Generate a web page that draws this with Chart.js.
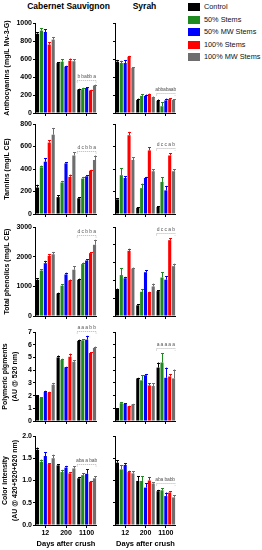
<!DOCTYPE html>
<html>
<head>
<meta charset="utf-8">
<script src="https://cdn.jsdelivr.net/npm/chart.js@4.4.1/dist/chart.umd.min.js"></script>
<style>
  html, body { margin:0; padding:0; background:#fff; }
  body { width:262px; height:550px; position:relative; overflow:hidden; font-family:'Liberation Sans', Arial, sans-serif; }
  canvas { position:absolute; }
  .ttl { position:absolute; font-weight:bold; font-size:8.5px; color:#000; white-space:nowrap; transform:translate(-50%,-50%); }
  .lg { position:absolute; left:188px; font-size:7.3px; color:#111; white-space:nowrap; height:10px; line-height:10px; }
  .lg i { position:absolute; left:0; top:1px; width:12px; height:8px; }
  .lg span { position:absolute; left:16px; top:0; }
</style>
</head>
<body>
<div class="ttl" style="left:68.5px;top:6px">Cabernet Sauvignon</div>
<div class="ttl" style="left:144.5px;top:6px">Syrah</div>
<div id="legend"></div>
<script>
// ---------- DATA ----------
const categories = ['12', '200', '1100'];
const seriesNames = ['Control', '50% Stems', '50% MW Stems', '100% Stems', '100% MW Stems'];
const seriesColors = ['#000000', '#1f8a1f', '#0000ff', '#ff0000', '#6e6e6e'];

// each row: one series across categories [12, 200, 1100]
const cabAnth    = [[880,555,260],[915,570,265],[900,515,278],[760,580,250],[815,575,305]];
const cabAnthErr = [[15,10,10],[30,25,15],[30,10,10],[25,25,8],[30,20,10]];
const syrAnth    = [[570,145,135],[555,190,75],[555,190,140],[625,205,155],[500,175,145]];
const syrAnthErr = [[20,15,15],[25,20,45],[30,15,20],[10,10,10],[10,8,10]];

const cabTan    = [[235,150,140],[415,280,315],[465,450,335],[635,330,385],[705,520,480]];
const cabTanErr = [[25,15,10],[15,15,15],[30,8,10],[20,20,8],[60,30,40]];
const syrTan    = [[130,55,62],[345,230,285],[320,320,210],[700,565,520],[480,380,380]];
const syrTanErr = [[10,5,5],[60,40,40],[15,10,40],[30,30,20],[25,20,20]];

const cabPhen    = [[1220,756,1220],[1530,1020,1750],[1780,1400,1870],[2030,1200,2120],[2080,1560,2400]];
const cabPhenErr = [[50,30,40],[40,50,50],[80,60,40],[60,30,30],[80,120,170]];
const syrPhen    = [[740,300,700],[1150,680,1080],[1060,1230,1020],[1830,650,2130],[1330,830,1400]];
const syrPhenErr = [[30,30,30],[200,80,150],[40,50,100],[60,30,60],[30,80,70]];

const cabPoly    = [[1.98,5.0,6.3],[1.82,4.8,6.35],[2.28,4.22,6.4],[2.22,5.05,5.35],[2.85,4.65,5.75]];
const cabPolyErr = [[0.05,0.15,0.1],[0.05,0.1,0.1],[0.1,0.05,0.3],[0.08,0.25,0.05],[0.15,0.15,0.1]];
const syrPoly    = [[0.95,3.35,4.2],[1.4,3.2,4.6],[1.35,3.6,3.4],[1.15,2.8,3.5],[1.3,2.75,3.35]];
const syrPolyErr = [[0.05,0.05,0.4],[0.1,0.4,0.75],[0.05,0.1,0.8],[0.05,0.15,0.2],[0.05,0.2,0.7]];

const cabColor    = [[1.69,1.34,1.05],[1.42,1.19,1.12],[1.55,1.29,1.15],[1.37,1.16,0.97],[1.5,1.27,1.05]];
const cabColorErr = [[0.05,0.03,0.03],[0.05,0.05,0.04],[0.08,0.04,0.1],[0.02,0.03,0.02],[0.08,0.05,0.05]];
const syrColor    = [[1.4,0.99,0.76],[1.25,0.99,0.78],[1.35,0.84,0.65],[1.19,1.0,0.73],[1.16,0.93,0.62]];
const syrColorErr = [[0.05,0.1,0.03],[0.1,0.1,0.05],[0.04,0.1,0.08],[0.03,0.08,0.03],[0.05,0.03,0.05]];

// significance letters over the 1100-day group
const cabAnthLetters  = ['b','b','ab','b','a'];
const syrAnthLetters  = ['ab','b','ab','a','ab'];
const cabTanLetters   = ['d','c','b','b','a'];
const syrTanLetters   = ['d','c','c','a','b'];
const cabPhenLetters  = ['d','c','b','b','a'];
const syrPhenLetters  = ['d','c','c','a','b'];
const cabPolyLetters  = ['a','a','a','b','b'];
const syrPolyLetters  = ['a','a','a','a','a'];
const cabColorLetters = ['ab','a','a','b','ab'];
const syrColorLetters = ['ab','a','b','ab','b'];

// y-axis titles and tick ranges
const yTitles = [
  'Anthocyanins (mg/L Mv-3-G)',
  'Tannins (mg/L CE)',
  'Total phenolics (mg/L CE)',
  ['Polymeric pigments', '(AU @ 520 nm)'],
  ['Color intensity', '(AU @ 420+520+620 nm)']
];
const yMaxLeft  = [1000, 800, 3000, 7, 2.0];
const yStepLeft = [200, 200, 1000, 1, 0.5];
const yMaxRight  = [1000, 800, 2500, 7, 2.0];
const yStepRight = [200, 200, 500, 1, 0.5];
const xTitle = 'Days after crush';

// ---------- LAYOUT ----------
const ROW_TOP = [23, 124, 227, 332, 436];
const ROW_BOT = [113, 214, 316, 421, 525];

Chart.defaults.font.family = "'Liberation Sans', Arial, sans-serif";
Chart.defaults.color = '#000';

// legend
const lg = document.getElementById('legend');
seriesNames.forEach((n, i) => {
  const d = document.createElement('div');
  d.className = 'lg';
  d.style.top = (2 + i * 12.5) + 'px';
  d.innerHTML = '<i style="background:' + seriesColors[i] + '"></i><span>' + n + '</span>';
  lg.appendChild(d);
});

const errLetterPlugin = {
  id: 'errLetters',
  afterDatasetsDraw(chart) {
    const o = chart.options.plugins.errLetters;
    const ctx = chart.ctx;
    const y = chart.scales.y;
    ctx.save();
    // error bars
    chart.data.datasets.forEach((ds, di) => {
      const meta = chart.getDatasetMeta(di);
      meta.data.forEach((bar, j) => {
        const v = ds.data[j], e = o.err[di][j];
        const x = Math.round(bar.x) + 0.5;
        const yTop = y.getPixelForValue(v + e);
        ctx.strokeStyle = ds.backgroundColor;
        ctx.lineWidth = 1;
        ctx.beginPath();
        ctx.moveTo(x, y.getPixelForValue(v));
        ctx.lineTo(x, yTop);
        ctx.moveTo(x - 1.5, Math.round(yTop) + 0.5);
        ctx.lineTo(x + 1.5, Math.round(yTop) + 0.5);
        ctx.stroke();
      });
    });
    // bracket + letters over last group
    const j = categories.length - 1;
    let minY = Infinity, xl = Infinity, xr = -Infinity;
    chart.data.datasets.forEach((ds, di) => {
      const bar = chart.getDatasetMeta(di).data[j];
      minY = Math.min(minY, y.getPixelForValue(ds.data[j] + o.err[di][j]));
      xl = Math.min(xl, bar.x - bar.width / 2);
      xr = Math.max(xr, bar.x + bar.width / 2);
    });
    const by = Math.round(minY - 5) + 0.5;
    ctx.strokeStyle = '#b5b5b5';
    ctx.setLineDash([1, 1]);
    ctx.beginPath();
    ctx.moveTo(xl, by + 2);
    ctx.lineTo(xl, by);
    ctx.lineTo(xr, by);
    ctx.lineTo(xr, by + 2);
    ctx.stroke();
    ctx.setLineDash([]);
    ctx.fillStyle = '#555';
    ctx.font = "5px 'Liberation Sans', Arial, sans-serif";
    ctx.textAlign = 'center';
    ctx.textBaseline = 'bottom';
    chart.data.datasets.forEach((ds, di) => {
      const bar = chart.getDatasetMeta(di).data[j];
      ctx.fillText(o.letters[di], bar.x, by - 1);
    });
    ctx.restore();
  }
};

const panels = [
  [cabAnth, cabAnthErr, cabAnthLetters, syrAnth, syrAnthErr, syrAnthLetters],
  [cabTan, cabTanErr, cabTanLetters, syrTan, syrTanErr, syrTanLetters],
  [cabPhen, cabPhenErr, cabPhenLetters, syrPhen, syrPhenErr, syrPhenLetters],
  [cabPoly, cabPolyErr, cabPolyLetters, syrPoly, syrPolyErr, syrPolyLetters],
  [cabColor, cabColorErr, cabColorLetters, syrColor, syrColorErr, syrColorLetters]
];

function makeChart(row, col) {
  const p = panels[row];
  const vals = col === 0 ? p[0] : p[3];
  const errs = col === 0 ? p[1] : p[4];
  const letters = col === 0 ? p[2] : p[5];
  const last = row === 4;
  const padTop = 20, padBottom = last ? 1 : 16, xh = last ? 24 : 4;
  const left = col === 0 ? 0 : 105;
  const yw = col === 0 ? 35 : 10;
  const width = col === 0 ? 97 : 71;
  const height = (ROW_BOT[row] - ROW_TOP[row]) + padTop + xh + padBottom;
  const cv = document.createElement('canvas');
  cv.width = width; cv.height = height;
  cv.style.left = left + 'px';
  cv.style.top = (ROW_TOP[row] - padTop) + 'px';
  cv.style.width = width + 'px'; cv.style.height = height + 'px';
  document.body.appendChild(cv);
  const multi = Array.isArray(yTitles[row]);
  const yMax = col === 0 ? yMaxLeft[row] : yMaxRight[row];
  const yStep = col === 0 ? yStepLeft[row] : yStepRight[row];
  new Chart(cv, {
    type: 'bar',
    data: {
      labels: categories,
      datasets: seriesNames.map((n, i) => ({
        label: n,
        data: vals[i],
        backgroundColor: seriesColors[i],
        borderWidth: 0,
        categoryPercentage: 0.95,
        barPercentage: 0.8
      }))
    },
    options: {
      responsive: false,
      animation: false,
      devicePixelRatio: 1,
      layout: { padding: { top: padTop, bottom: padBottom, left: 0, right: 0 } },
      plugins: {
        legend: { display: false },
        tooltip: { enabled: false },
        errLetters: { err: errs, letters: letters }
      },
      scales: {
        x: {
          offset: true,
          grid: { display: true, offset: false, drawOnChartArea: false, drawTicks: true, tickLength: 3, color: '#000', lineWidth: 1 },
          border: { display: true, color: '#000', width: 1 },
          ticks: {
            padding: 1, autoSkip: false, maxRotation: 0, minRotation: 0,
            font: { size: 7, weight: 'bold' }, color: '#000',
            callback: (v, i) => last ? categories[i] : ''
          },
          title: { display: last, text: xTitle, font: { size: 7.5, weight: 'bold' }, color: '#000', padding: { top: 0, bottom: 1 } },
          afterFit: s => { s.height = xh; }
        },
        y: {
          min: 0, max: yMax,
          grid: { drawOnChartArea: false, drawTicks: true, tickLength: 2, color: '#000', lineWidth: 1 },
          border: { display: true, color: '#000', width: 1 },
          ticks: {
            stepSize: yStep, padding: 1,
            font: { size: 7, weight: 'bold' }, color: '#000',
            callback: v => col === 0 ? (row === 4 ? v.toFixed(1) : String(v)) : ''
          },
          title: {
            display: col === 0, text: yTitles[row],
            font: { size: 7, weight: 'bold', lineHeight: 1.3 }, color: '#000',
            padding: { top: multi ? 1 : 3, bottom: 0 }
          },
          afterFit: s => { s.width = yw; }
        }
      }
    },
    plugins: [errLetterPlugin]
  });
}

for (let r = 0; r < 5; r++) { makeChart(r, 0); makeChart(r, 1); }
</script>
</body>
</html>
